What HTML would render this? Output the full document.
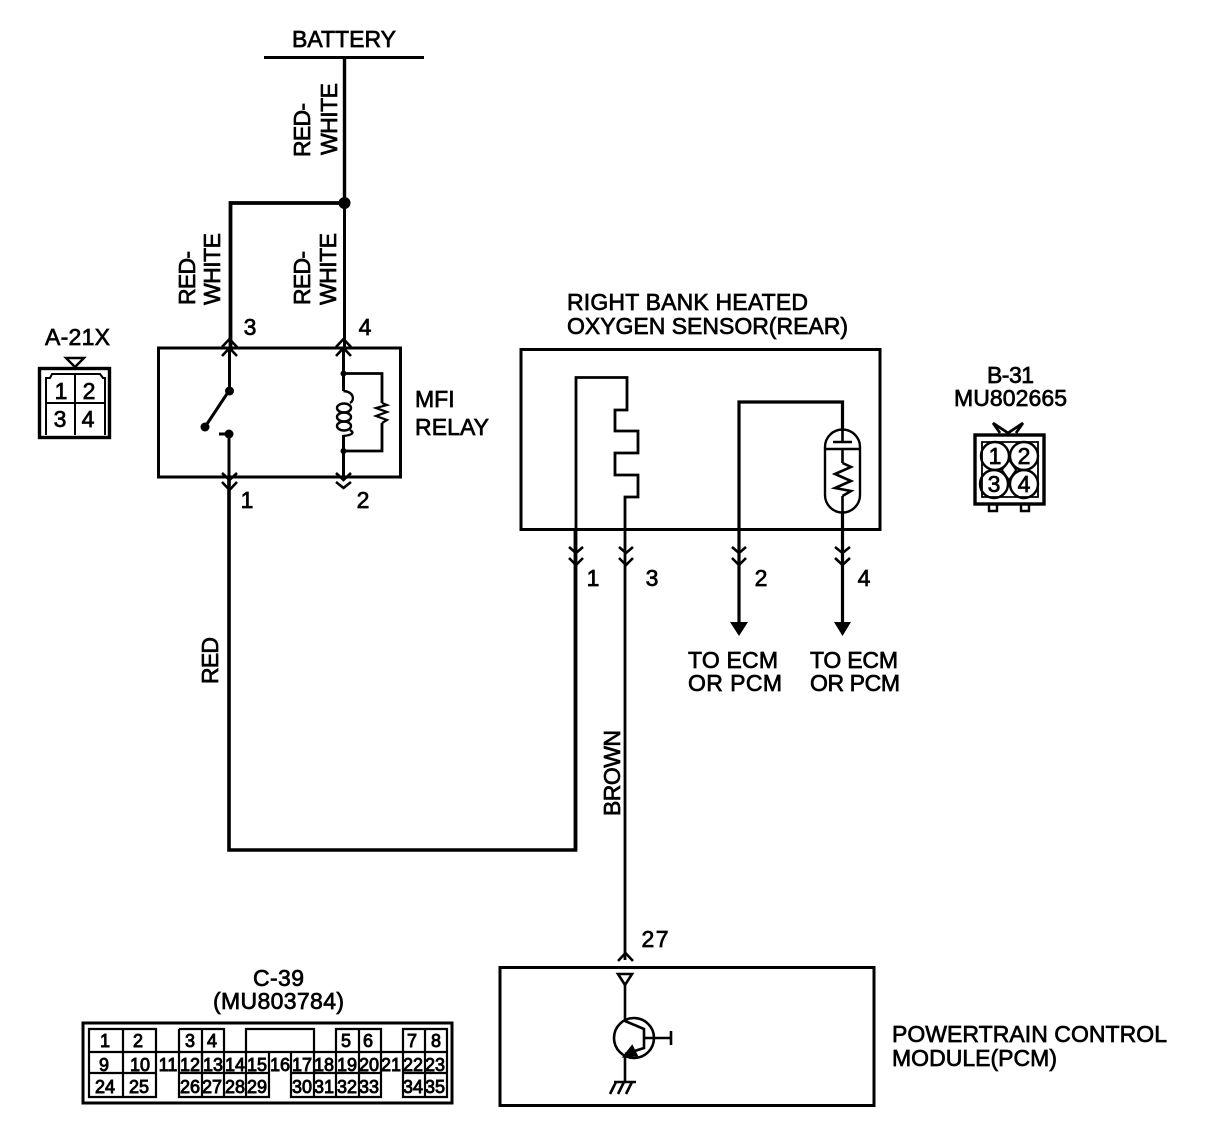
<!DOCTYPE html>
<html><head><meta charset="utf-8"><style>
html,body{margin:0;padding:0;background:#fff}
svg{display:block}
text{font-family:"Liberation Sans",sans-serif;font-size:23px;fill:#000;stroke:#000;stroke-width:.7px}
.t text{font-size:18px;text-anchor:middle;stroke-width:.9px}
.n text{font-size:23px;text-anchor:middle}
</style></head><body>
<svg width="1216" height="1134" viewBox="0 0 1216 1134" xmlns="http://www.w3.org/2000/svg">
<g fill="none" stroke="#000" stroke-width="3">
<!-- battery -->
<path d="M264 57.500H424" stroke-width="3"/>
<path d="M344.500 57V203" stroke-width="3.400"/>
<path d="M344.500 203V348" stroke-width="3"/>
<path d="M344.500 203H230.500V348" stroke-width="3.800"/>
<!-- relay box -->
<rect x="158.500" y="348" width="242" height="129"/>
<path d="M229.500 348V390M229.500 390L205 427M229 434V477" stroke-width="3"/>
<path d="M219 434H229"/>
<path d="M229 477V850H575.500V530" stroke-width="3.600"/>
<path d="M343.500 348V391M343.500 435V477"/>
<path d="M343.500 373.500H382V403M382 423V451H343.500" stroke-width="2.800"/>
<path d="M343.500 391C354 392 355 400 350 403" stroke-width="2.400"/>
<ellipse cx="344" cy="408" rx="7" ry="4.500" stroke-width="2.400"/>
<ellipse cx="344" cy="417" rx="7" ry="4.500" stroke-width="2.400"/>
<ellipse cx="344" cy="426" rx="7" ry="4.500" stroke-width="2.400"/>
<path d="M350 430C355 433 352 435 343.500 436" stroke-width="2.400"/>
<path d="M382 403L387 405L376 408L387 412L376 416L387 420L382 423" stroke-width="2.200"/>
<!-- chevrons relay -->
<path d="M222 347L229.500 339L237 347M222 356L229.500 348L237 356M336 347L343.500 339L351 347M336 356L343.500 348L351 356M222 473L229.500 480L237 473M222 482L229.500 490L237 482M336 473L343.500 480L351 473M336 482L343.500 488L351 482" stroke-width="2.600"/>
<!-- A-21X -->
<rect x="39.500" y="368.500" width="70" height="69" stroke-width="3.400"/>
<path d="M46 380V378H50L52 374H100L103 378H105V435M46 380V435M75 374V435M46 403H105" stroke-width="2"/>
<path d="M66 358H84L75 367Z" stroke-width="2.400"/>
<!-- sensor box -->
<rect x="521" y="349.500" width="359" height="180"/>
<path d="M576 530V377.500H627V410H615V431H638V453H615V475H638V497H625V960" stroke-width="2.800"/>
<path d="M575.500 530V850" stroke-width="3.600"/>
<path d="M739 622V402H842.500V429M842.500 513V622" stroke-width="3.200"/>
<path d="M825 449V495A17.500 17.500 0 0 0 860 495V447A17.500 17.500 0 0 0 825 447Z" stroke-width="2.400"/>
<path d="M825 449H860M833 442H852M842.500 429V442M842.500 449V463M842.500 496V513" stroke-width="2.600"/>
<path d="M842.500 463L851 467L835 474L851 481L835 488L851 491L842.500 496" stroke-width="2.600"/>
<!-- chevrons sensor -->
<path d="M569 547L576 553L583 547M569 558L576 565L583 558M619 547L626 553L633 547M619 558L626 565L633 558M732 547L739 553L746 547M732 558L739 565L746 558M835 547L842.500 553L850 547M835 558L842.500 565L850 558" stroke-width="2.600"/>
<!-- B-31 -->
<path d="M993 423L1008 433L1023 423M993 423L1000 433M1023 423L1016 433" stroke-width="2.800"/>
<rect x="975" y="435" width="69" height="69" stroke-width="3.400"/>
<path d="M982 442H1038V497H982Z" stroke-width="1.800"/>
<circle cx="995" cy="456" r="14" stroke-width="2.400"/>
<circle cx="1024" cy="456" r="14" stroke-width="2.400"/>
<circle cx="994" cy="484" r="14" stroke-width="2.400"/>
<circle cx="1024" cy="484" r="14" stroke-width="2.400"/>
<path d="M1009 460L1016 470L1009 480L1002 470Z" stroke-width="1.800"/>
<path d="M989 504V511H997V504M1021 504V511H1029V504" stroke-width="2.400"/>
<!-- PCM -->
<rect x="500" y="967.500" width="374" height="138"/>
<path d="M618 961L625.500 953L633 961" stroke-width="2.600"/>
<path d="M625 985V1022M625 1054V1082" stroke-width="2.600"/>
<path d="M618 974H632L625 985Z" stroke-width="2.600"/>
<circle cx="634" cy="1038" r="20" stroke-width="2.600"/>
<path d="M625 1021L644 1029V1048L625 1054M644 1038H671M671 1031V1045" stroke-width="2.600"/>
<path d="M632 1047L625 1056L636 1055Z" fill="#000"/>
<path d="M614 1082H636M616 1082L610 1094M624 1082L618 1094M632 1082L626 1094" stroke-width="2.600"/>
<!-- C-39 -->
<rect x="83" y="1023" width="369" height="80" stroke-width="3"/>
<path d="M89 1029H156V1097H89ZM123 1029V1097M89 1052H447M89 1073H156M156 1052V1073" stroke-width="2.200"/>
<path d="M179 1029H224V1052M179 1029V1052M202 1029V1097M179 1073V1097H269V1073M224 1052V1097M246 1052V1097M179 1073H269" stroke-width="2.200"/>
<path d="M246 1052V1029H314V1052" stroke-width="2.200"/>
<path d="M336 1052V1029H381V1052M359 1029V1097M403 1052V1029H447V1097H403V1052M425 1029V1097" stroke-width="2.200"/>
<path d="M291 1073V1097H381V1073M314 1052V1097M336 1052V1097M381 1052V1097M291 1052V1097M269 1052V1073M291 1073H381M403 1073H447" stroke-width="2.200"/>
<path d="M179 1052V1073M202 1052V1073" stroke-width="2.200"/>
</g>
<!-- filled parts -->
<circle cx="344.500" cy="203" r="6"/>
<circle cx="229.500" cy="391" r="4.500"/>
<circle cx="205" cy="427" r="4.500"/>
<circle cx="229" cy="434" r="4.500"/>
<circle cx="343.500" cy="373.500" r="3"/>
<circle cx="343.500" cy="451" r="3"/>
<path d="M730 622H748L739 636Z"/>
<path d="M834 622H851L842.500 636Z"/>

<text x="292" y="47" textLength="104">BATTERY</text>
<text x="45" y="345" textLength="65">A-21X</text>
<text x="415" y="407">MFI</text>
<text x="415" y="435" textLength="74">RELAY</text>
<text x="567" y="310" textLength="241">RIGHT BANK HEATED</text>
<text x="567" y="334" textLength="281">OXYGEN SENSOR(REAR)</text>
<text x="987" y="383" textLength="47">B-31</text>
<text x="954" y="406" textLength="113">MU802665</text>
<text x="688" y="668" textLength="90">TO ECM</text>
<text x="688" y="691" textLength="94">OR PCM</text>
<text x="810" y="668" textLength="88">TO ECM</text>
<text x="810" y="691" textLength="90">OR PCM</text>
<text x="253" y="986" textLength="51">C-39</text>
<text x="213" y="1009" textLength="131">(MU803784)</text>
<text x="892" y="1042" textLength="275">POWERTRAIN CONTROL</text>
<text x="892" y="1066" textLength="165">MODULE(PCM)</text>

<text transform="translate(310 157) rotate(-90)" textLength="54">RED-</text>
<text transform="translate(337 155) rotate(-90)" textLength="72">WHITE</text>
<text transform="translate(195 305) rotate(-90)" textLength="54">RED-</text>
<text transform="translate(220 305) rotate(-90)" textLength="72">WHITE</text>
<text transform="translate(310 305) rotate(-90)" textLength="54">RED-</text>
<text transform="translate(336 305) rotate(-90)" textLength="72">WHITE</text>
<text transform="translate(218 684) rotate(-90)" textLength="47">RED</text>
<text transform="translate(620 816) rotate(-90)" textLength="86">BROWN</text>

<g class="n">
<text x="250" y="335">3</text><text x="365" y="335">4</text>
<text x="247" y="508">1</text><text x="363" y="508">2</text>
<text x="593" y="586">1</text><text x="652" y="586">3</text>
<text x="761" y="586">2</text><text x="864" y="586">4</text>
<text x="655" y="947" textLength="27">27</text>
<text x="61" y="399">1</text><text x="89" y="399">2</text>
<text x="60" y="427">3</text><text x="88" y="427">4</text>
<text x="995" y="464">1</text><text x="1024" y="464">2</text>
<text x="994" y="492">3</text><text x="1024" y="492">4</text>
</g>
<g class="t">
<text x="105" y="1047">1</text><text x="138" y="1047">2</text><text x="190" y="1047">3</text><text x="212" y="1047">4</text><text x="346" y="1047">5</text><text x="368" y="1047">6</text><text x="412" y="1047">7</text><text x="436" y="1047">8</text>
<text x="104" y="1071">9</text><text x="140" y="1071">10</text><text x="168" y="1071">11</text><text x="190" y="1071">12</text><text x="213" y="1071">13</text><text x="235" y="1071">14</text><text x="257" y="1071">15</text><text x="280" y="1071">16</text><text x="302" y="1071">17</text><text x="324" y="1071">18</text><text x="347" y="1071">19</text><text x="369" y="1071">20</text><text x="391" y="1071">21</text><text x="413" y="1071">22</text><text x="435" y="1071">23</text>
<text x="105" y="1093">24</text><text x="139" y="1093">25</text><text x="190" y="1093">26</text><text x="212" y="1093">27</text><text x="235" y="1093">28</text><text x="257" y="1093">29</text><text x="302" y="1093">30</text><text x="324" y="1093">31</text><text x="347" y="1093">32</text><text x="369" y="1093">33</text><text x="413" y="1093">34</text><text x="435" y="1093">35</text>
</g>
</svg>
</body></html>
